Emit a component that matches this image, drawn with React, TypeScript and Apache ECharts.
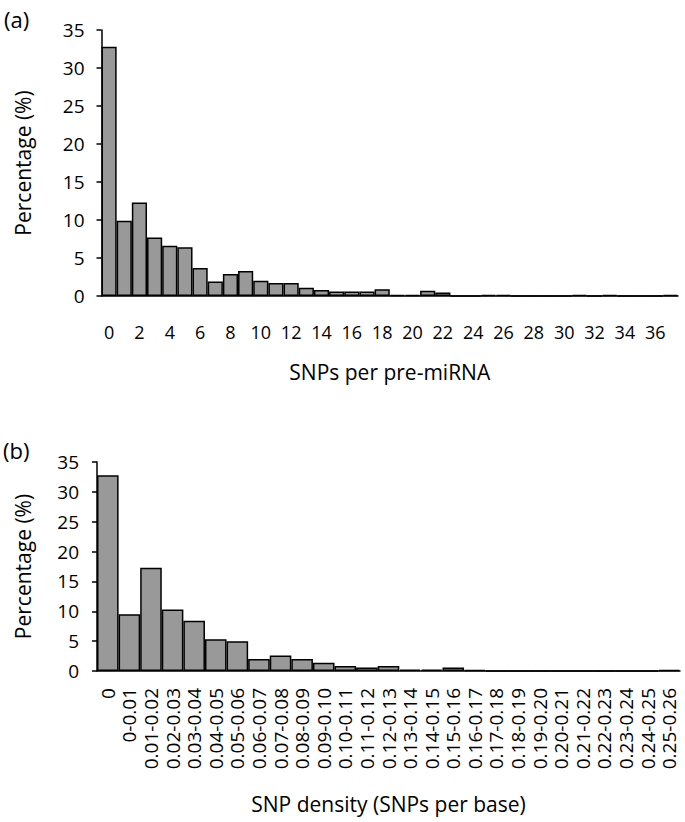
import React, { useEffect, useRef } from "react";
import * as echarts from "echarts";

const snpCountCategories: string[] = [
  "0", "1", "2", "3", "4", "5", "6", "7", "8", "9",
  "10", "11", "12", "13", "14", "15", "16", "17", "18", "19",
  "20", "21", "22", "23", "24", "25", "26", "27", "28", "29",
  "30", "31", "32", "33", "34", "35", "36", "37",
];
const snpCountPercent: number[] = [
  32.8, 9.9, 12.3, 7.7, 6.6, 6.4, 3.7, 1.9, 2.9, 3.3,
  2.0, 1.7, 1.7, 1.1, 0.8, 0.6, 0.6, 0.6, 0.9, 0.15,
  0.15, 0.7, 0.45, 0, 0, 0.15, 0.15, 0, 0, 0,
  0, 0.15, 0, 0.15, 0, 0, 0, 0.15,
];

const densityCategories: string[] = [
  "0", "0-0.01", "0.01-0.02", "0.02-0.03", "0.03-0.04", "0.04-0.05", "0.05-0.06",
  "0.06-0.07", "0.07-0.08", "0.08-0.09", "0.09-0.10", "0.10-0.11", "0.11-0.12",
  "0.12-0.13", "0.13-0.14", "0.14-0.15", "0.15-0.16", "0.16-0.17", "0.17-0.18",
  "0.18-0.19", "0.19-0.20", "0.20-0.21", "0.21-0.22", "0.22-0.23", "0.23-0.24",
  "0.24-0.25", "0.25-0.26",
];
const densityPercent: number[] = [
  32.8, 9.5, 17.3, 10.3, 8.4, 5.3, 5.0, 2.0, 2.6, 2.0,
  1.4, 0.85, 0.6, 0.85, 0.25, 0.25, 0.6, 0.2, 0, 0,
  0, 0, 0, 0, 0, 0, 0.2,
];

const yTickValues: number[] = [0, 5, 10, 15, 20, 25, 30, 35];

const FONT = "Open Sans";

export default function App() {
  const ref = useRef<HTMLDivElement>(null);
  useEffect(() => {
    if (!ref.current) return;
    const chart = echarts.init(ref.current, undefined, { renderer: "svg" });
    const axisLine = { show: true, lineStyle: { color: "#000", width: 1.5 } };
    const yAxisBase = {
      type: "value" as const,
      min: yTickValues[0],
      max: yTickValues[yTickValues.length - 1],
      interval: 5,
      axisLine,
      axisTick: { show: true, inside: false, length: 5, lineStyle: { color: "#000", width: 1.5 } },
      splitLine: { show: false },
      name: "Percentage (%)",
      nameLocation: "middle" as const,
      nameRotate: 90,
      nameTextStyle: { color: "#000", fontFamily: FONT, fontSize: 21 },
    };
    const barStyle = { color: "#999999", borderColor: "#000", borderWidth: 1.5 };
    chart.setOption({
      animation: false,
      backgroundColor: "#fff",
      grid: [
        { left: 101.5, top: 30, width: 576.5, height: 266, containLabel: false },
        { left: 97, top: 462, width: 583, height: 209, containLabel: false },
      ],
      xAxis: [
        {
          type: "category",
          gridIndex: 0,
          data: snpCountCategories,
          axisLine,
          axisTick: { show: false },
          axisLabel: { color: "#000", fontFamily: FONT, fontSize: 18, interval: 1, margin: 27 },
          name: "SNPs per pre-miRNA",
          nameLocation: "middle",
          nameGap: 65,
          nameTextStyle: { color: "#000", fontFamily: FONT, fontSize: 21 },
        },
        {
          type: "category",
          gridIndex: 1,
          data: densityCategories,
          axisLine,
          axisTick: { show: false },
          axisLabel: { color: "#000", fontFamily: FONT, fontSize: 19, interval: 0, rotate: 90, margin: 17 },
          name: "SNP density (SNPs per base)",
          nameLocation: "middle",
          nameGap: 122,
          nameTextStyle: { color: "#000", fontFamily: FONT, fontSize: 21 },
        },
      ],
      yAxis: [
        {
          ...yAxisBase,
          gridIndex: 0,
          nameGap: 68,
          axisLabel: { color: "#000", fontFamily: FONT, fontSize: 19, margin: 17 },
        },
        {
          ...yAxisBase,
          gridIndex: 1,
          nameGap: 64,
          axisLabel: { color: "#000", fontFamily: FONT, fontSize: 19, margin: 18 },
        },
      ],
      series: [
        {
          type: "bar",
          xAxisIndex: 0,
          yAxisIndex: 0,
          data: snpCountPercent,
          barCategoryGap: "0%",
          itemStyle: barStyle,
        },
        {
          type: "bar",
          xAxisIndex: 1,
          yAxisIndex: 1,
          data: densityPercent,
          barCategoryGap: "0%",
          itemStyle: barStyle,
        },
      ],
      graphic: [
        { type: "text", left: 4, top: 8, style: { text: "(a)", fontFamily: FONT, fontSize: 22, fill: "#000" } },
        { type: "text", left: 3, top: 439, style: { text: "(b)", fontFamily: FONT, fontSize: 22, fill: "#000" } },
      ],
    });
    return () => chart.dispose();
  }, []);
  return (
    <div
      ref={ref}
      style={{ position: "fixed", left: 0, top: 0, width: 685, height: 822 }}
    />
  );
}
